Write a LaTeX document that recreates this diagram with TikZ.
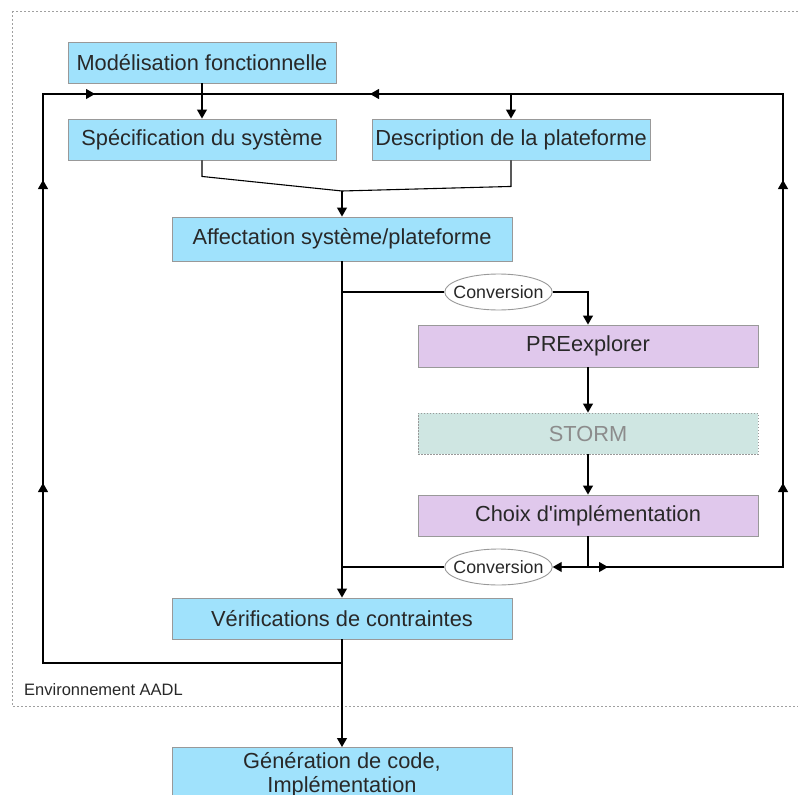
\documentclass[tikz,border=0pt]{standalone}
\usepackage{fontspec}
\setmainfont{Liberation Sans}
\usetikzlibrary{arrows.meta, positioning, shapes.geometric, decorations.markings}
\definecolor{boxblue}{RGB}{160,226,252}
\definecolor{boxlilac}{RGB}{224,200,236}
\definecolor{stormteal}{RGB}{207,230,226}
\definecolor{framegray}{RGB}{160,160,160}
\definecolor{inkgray}{RGB}{40,40,40}

\tikzset{
  box/.style={draw=gray!80, line width=0.9pt, minimum height=41pt, inner sep=0pt, text=inkgray, font=\fontsize{21.8}{24}\selectfont},
  bluebox/.style={box, fill=boxblue},
  lilacbox/.style={box, fill=boxlilac, minimum width=340pt},
  stormbox/.style={box, fill=stormteal, dash pattern=on 1.5pt off 1.5pt, text=gray!90, minimum width=340pt},
  convbox/.style={ellipse, draw=gray!80, fill=white, line width=0.9pt, inner xsep=-7pt, inner ysep=0pt, minimum width=107pt, minimum height=36pt, text=inkgray, font=\fontsize{17.8}{20}\selectfont},
  link/.style={line width=1.1pt},
  arr/.style={link, -{Triangle[length=9pt,width=10pt]}},
}

\begin{document}
\begin{tikzpicture}[x=1pt, y=-1pt]
  \useasboundingbox (0,0) rectangle (798,795);
  % AADL environment frame
  \draw[framegray, line width=0.8pt, dash pattern=on 2pt off 2pt] (12,11) rectangle (812,706);
  \node[anchor=west, inner sep=0pt, text=inkgray, font=\fontsize{16.5}{18}\selectfont] (envlbl) at (24,690) {Environnement AADL};

  \node[bluebox, minimum width=268pt] (modf) at (202,62.5) {Modélisation fonctionnelle};
  \node[bluebox, minimum width=268pt] (spec) at (202,139.5) {Spécification du système};
  \node[bluebox, minimum width=278pt] (desc) at (511,139.5) {Description de la plateforme};
  \node[bluebox, minimum width=340pt, minimum height=44pt] (affect) at (342,239) {Affectation système/plateforme};
  \node[convbox] (conv1) at (498.5,292) {Conversion};
  \node[lilacbox, minimum height=42pt] (prex) at (588,346) {PREexplorer};
  \node[stormbox] (storm) at (588,433.5) {STORM};
  \node[lilacbox] (choix) at (588,515.5) {Choix d\textquotesingle implémentation};
  \node[convbox] (conv2) at (498.5,567) {Conversion};
  \node[bluebox, minimum width=340pt] (verif) at (342,618.5) {Vérifications de contraintes};
  \node[bluebox, minimum width=340pt, minimum height=54pt, anchor=north, align=center] (gen) at (342,747) {Génération de code,\\Implémentation};

  % junction points
  \coordinate (ltop) at (43,94);
  \coordinate (rtop) at (783,94);
  \coordinate (merge) at (342,191);
  \coordinate (split) at (588,567);
  \coordinate (jv) at (342,663);

  \draw[arr] (modf) -- (spec);
  \draw[arr] (desc.north |- ltop) -- (desc);
  \draw[link] (spec.south) -- ++(0,16) -- (merge);
  \draw[link] (desc.south) -- ++(0,26) -- (merge);
  \draw[arr] (merge) -- (affect);
  \draw[arr] (affect) -- (verif);
  \draw[link] (affect.south |- conv1) -- (conv1);
  \draw[arr] (conv1) -| (prex);
  \draw[arr] (prex) -- (storm);
  \draw[arr] (storm) -- (choix);
  \draw[link] (choix) -- (split);
  \draw[arr] (split) -- (conv2);
  \draw[link] (conv2) -- (conv2 -| affect);
  \draw[arr] (verif) -- (gen);

  % feedback loops
  \draw[link, postaction={decorate}, decoration={markings,
      mark=at position 20pt with {\arrow{Triangle[length=9pt,width=10pt]}},
      mark=at position 279pt with {\arrow{Triangle[length=9pt,width=10pt]}},
      mark=at position 582pt with {\arrow{Triangle[length=9pt,width=10pt]}},
      mark=at position 1081pt with {\arrow{Triangle[length=9pt,width=10pt]}}}]
    (split) -- (split -| rtop) -- (rtop) -- (spec.north |- rtop);
  \draw[link, postaction={decorate}, decoration={markings,
      mark=at position 479pt with {\arrow{Triangle[length=9pt,width=10pt]}},
      mark=at position 782pt with {\arrow{Triangle[length=9pt,width=10pt]}},
      mark=at position 920pt with {\arrow{Triangle[length=9pt,width=10pt]}}}]
    (jv) -- (jv -| ltop) -- (ltop) -- (spec.north |- ltop);
\end{tikzpicture}
\end{document}
